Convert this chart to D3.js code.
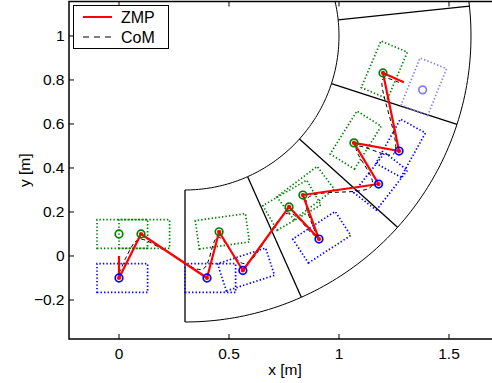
<!DOCTYPE html>
<html>
<head>
<meta charset="utf-8">
<script src="https://cdn.jsdelivr.net/npm/d3@7"></script>
<style>
  html, body { margin: 0; padding: 0; background: #fff; }
  svg { display: block; font-family: "Liberation Sans", Arial, Helvetica, sans-serif; }
</style>
</head>
<body>
<svg id="chart" width="492" height="383"></svg>
<script>
// ---------------- data ----------------
const xTicks = [0, 0.5, 1, 1.5];
const yTicks = [-0.2, 0, 0.2, 0.4, 0.6, 0.8, 1];
const xTickLabels = ["0", "0.5", "1", "1.5"];
const yTickLabels = ["\u22120.2", "0", "0.2", "0.4", "0.6", "0.8", "1"];

// footsteps (ankle position, side, heading in degrees)
const footX = [0, 0, 0.1, 0.4, 0.455, 0.563, 0.773, 0.909, 0.836, 1.18, 1.068, 1.273, 1.2, 1.38];
const footY = [-0.1, 0.1, 0.1, -0.1, 0.11, -0.066, 0.223, 0.077, 0.277, 0.327, 0.514, 0.477, 0.832, 0.755];
const footSide = ["R", "L", "L", "R", "L", "R", "L", "R", "L", "R", "L", "R", "L", "R"];
const footHeading = [0, 0, 0, 0, 8, 18, 30, 33, 37, 52, 58, 61, 67, 68];
const footPlanned = [false, false, false, false, false, false, false, false, false, false, false, false, false, true];
// foot outline (relative to ankle): back, front, half width
const footBack = 0.1, footFront = 0.13, footHalfW = 0.065;

// ZMP trajectory
const zmpX = [0, 0, 0.1, 0.4, 0.455, 0.563, 0.773, 0.909, 0.836, 1.18, 1.068, 1.273, 1.2, 1.295];
const zmpY = [0, -0.1, 0.1, -0.1, 0.11, -0.066, 0.223, 0.077, 0.277, 0.327, 0.514, 0.477, 0.832, 0.79];

// CoM trajectory
const comX = [0, 0.003, 0.03, 0.09, 0.2, 0.38, 0.45, 0.57, 0.77, 0.89, 0.855, 1.15, 1.08, 1.25, 1.2, 1.28];
const comY = [0, -0.07, -0.01, 0.075, 0.03, -0.06, 0.085, -0.035, 0.195, 0.095, 0.26, 0.32, 0.495, 0.465, 0.805, 0.785];

// road: straight segment end at x=0.3 and an annular curve
const roadCenter = [0.3, 1.0];
const roadRadii = [0.7, 1.3];
const roadArcDeg = [-90, 90];
const roadDividersDeg = [-90, -66, -42, -18, 6, 30];

// ---------------- layout ----------------
const L = 69, R = 501, T = 1.5, B = 339;
const x = d3.scaleLinear().domain([-0.2273, 1.7364]).range([L, R]);
const y = d3.scaleLinear().domain([-0.3773, 1.1566]).range([B, T]);

const svg = d3.select("#chart");
svg.append("defs").append("clipPath").attr("id", "clip")
  .append("rect").attr("x", L).attr("y", T).attr("width", R - L).attr("height", B - T);
const plot = svg.append("g").attr("clip-path", "url(#clip)");

const GREEN = "#008000", BLUE = "#0000ff", LIGHTBLUE = "#8080ff";

// road arcs
const rad = d => d * Math.PI / 180;
roadRadii.forEach(r => {
  const pts = d3.range(roadArcDeg[0], roadArcDeg[1] + 0.01, 1).map(a =>
    [x(roadCenter[0] + r * Math.cos(rad(a))), y(roadCenter[1] + r * Math.sin(rad(a)))]);
  plot.append("path").attr("d", d3.line()(pts))
    .attr("fill", "none").attr("stroke", "#000").attr("stroke-width", 1);
});
roadDividersDeg.forEach(a => {
  plot.append("line")
    .attr("x1", x(roadCenter[0] + roadRadii[0] * Math.cos(rad(a))))
    .attr("y1", y(roadCenter[1] + roadRadii[0] * Math.sin(rad(a))))
    .attr("x2", x(roadCenter[0] + roadRadii[1] * Math.cos(rad(a))))
    .attr("y2", y(roadCenter[1] + roadRadii[1] * Math.sin(rad(a))))
    .attr("stroke", "#000").attr("stroke-width", 1.3);
});

// foot outlines
footX.forEach((fx, i) => {
  const th = rad(footHeading[i]);
  const c = Math.cos(th), s = Math.sin(th);
  const local = [[-footBack, -footHalfW], [footFront, -footHalfW], [footFront, footHalfW], [-footBack, footHalfW]];
  const pts = local.map(([u, v]) => [x(fx + u * c - v * s), y(footY[i] + u * s + v * c)]);
  const col = footSide[i] === "L" ? GREEN : (footPlanned[i] ? LIGHTBLUE : BLUE);
  plot.append("path").attr("d", d3.line()(pts) + "Z")
    .attr("fill", "none").attr("stroke", col).attr("stroke-width", 1.7)
    .attr("stroke-dasharray", "1.4,2.1");
});

// CoM
plot.append("path")
  .attr("d", d3.line().x((d, i) => x(comX[i])).y((d, i) => y(comY[i])).curve(d3.curveCatmullRom.alpha(0.5))(comX))
  .attr("fill", "none").attr("stroke", "#000").attr("stroke-width", 1).attr("stroke-dasharray", "4,3");

// ZMP
plot.append("path")
  .attr("d", d3.line().x((d, i) => x(zmpX[i])).y((d, i) => y(zmpY[i]))(zmpX))
  .attr("fill", "none").attr("stroke", "#ff0000").attr("stroke-width", 2.2).attr("stroke-linejoin", "round");

// foot circles
footX.forEach((fx, i) => {
  const col = footSide[i] === "L" ? GREEN : (footPlanned[i] ? LIGHTBLUE : BLUE);
  plot.append("circle").attr("cx", x(fx)).attr("cy", y(footY[i])).attr("r", 3.8)
    .attr("fill", "none").attr("stroke", col).attr("stroke-width", 1.7);
});
// red dots on ZMP vertices at footsteps
zmpX.forEach((zx, i) => {
  if (i === 0 || i === zmpX.length - 1) return;
  plot.append("circle").attr("cx", x(zx)).attr("cy", y(zmpY[i])).attr("r", 2.1)
    .attr("fill", "#ff0000");
});

// ---------------- axes ----------------
const axes = svg.append("g");
axes.append("path")
  .attr("d", `M${R},${T}H${L}V${B}H${R}`)
  .attr("fill", "none").attr("stroke", "#000").attr("stroke-width", 1.5);
const tickLen = 5;
xTicks.forEach((t, i) => {
  const px = x(t);
  axes.append("line").attr("x1", px).attr("x2", px).attr("y1", B).attr("y2", B - tickLen).attr("stroke", "#000");
  axes.append("line").attr("x1", px).attr("x2", px).attr("y1", T).attr("y2", T + tickLen).attr("stroke", "#000");
  axes.append("text").attr("x", px).attr("y", 358.5).attr("text-anchor", "middle")
    .attr("font-size", 15.5).text(xTickLabels[i]);
});
yTicks.forEach((t, i) => {
  const py = y(t);
  axes.append("line").attr("x1", L).attr("x2", L + tickLen).attr("y1", py).attr("y2", py).attr("stroke", "#000");
  axes.append("text").attr("x", 64.5).attr("y", py + 5.5).attr("text-anchor", "end")
    .attr("font-size", 15.5).text(yTickLabels[i]);
});
axes.append("text").attr("x", (L + R) / 2).attr("y", 375).attr("text-anchor", "middle")
  .attr("font-size", 15.5).text("x [m]");
axes.append("text").attr("transform", `translate(30,${(T + B) / 2}) rotate(-90)`)
  .attr("text-anchor", "middle").attr("font-size", 15.5).text("y [m]");

// ---------------- legend ----------------
const lg = svg.append("g");
lg.append("rect").attr("x", 73.5).attr("y", 5.5).attr("width", 95).attr("height", 43)
  .attr("fill", "#fff").attr("stroke", "#000").attr("stroke-width", 1);
lg.append("line").attr("x1", 83).attr("x2", 112).attr("y1", 17).attr("y2", 17)
  .attr("stroke", "#ff0000").attr("stroke-width", 2);
lg.append("text").attr("x", 121).attr("y", 23).attr("font-size", 16).text("ZMP");
lg.append("line").attr("x1", 83).attr("x2", 112).attr("y1", 37).attr("y2", 37)
  .attr("stroke", "#000").attr("stroke-width", 1).attr("stroke-dasharray", "6,5");
lg.append("text").attr("x", 121).attr("y", 43).attr("font-size", 16).text("CoM");
</script>
</body>
</html>
